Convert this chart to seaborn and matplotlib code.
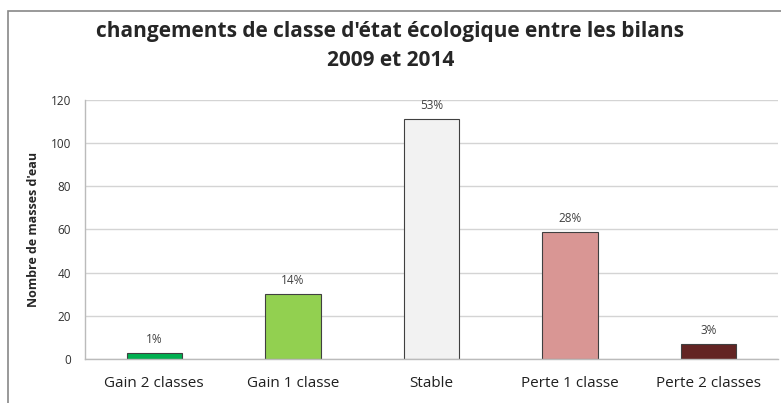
import pandas as pd
import seaborn as sns
import matplotlib.pyplot as plt
import matplotlib.patches as patches

# Données
categories = ["Gain 2 classes", "Gain 1 classe", "Stable", "Perte 1 classe", "Perte 2 classes"]
nombres = [3, 30, 111, 59, 7]
pourcentages = ["1%", "14%", "53%", "28%", "3%"]
couleurs = ["#00B050", "#92D050", "#F2F2F2", "#D99694", "#632423"]

df = pd.DataFrame({"classe": categories, "nombre": nombres})

sns.set_style("white")
plt.rcParams["font.family"] = ["Open Sans", "DejaVu Sans"]

fig = plt.figure(figsize=(7.81, 4.03), dpi=100)
ax = fig.add_axes([0.1088, 0.1092, 0.887, 0.6427])

sns.barplot(data=df, x="classe", y="nombre", hue="classe", palette=couleurs,
            saturation=1, width=0.4, edgecolor="#404040", linewidth=0.8,
            legend=False, ax=ax)

# Étiquettes de pourcentage au-dessus des barres
for i, (val, txt) in enumerate(zip(nombres, pourcentages)):
    ax.annotate(txt, (i, val), xytext=(0, 5), textcoords="offset points",
                ha="center", va="bottom", fontsize=8.5, color="#404040")

ax.set_ylim(0, 120)
ax.set_xlim(-0.5, 4.5)
ax.set_yticks(range(0, 121, 20))
ax.yaxis.grid(True, color="#D4D4D4", linewidth=1)
ax.set_axisbelow(True)

# Graduations de l'axe x aux limites des catégories
ax.set_xticks([-0.5 + k for k in range(6)], minor=True)
ax.tick_params(axis="x", which="major", length=0, labelsize=11, pad=12, colors="#202020")
ax.tick_params(axis="x", which="minor", length=5, color="#BBBBBB", direction="out")
ax.tick_params(axis="y", length=4, color="#BBBBBB", labelsize=8.5, labelcolor="#303030", pad=6)

for side in ["top", "right"]:
    ax.spines[side].set_visible(False)
for side in ["left", "bottom"]:
    ax.spines[side].set_color("#BBBBBB")
    ax.spines[side].set_linewidth(1)

ax.set_xlabel("")
ax.set_ylabel("Nombre de masses d'eau", fontsize=9, fontweight="bold", labelpad=8)

fig.text(0.5, 0.886, "changements de classe d'état écologique entre les bilans\n2009 et 2014",
         ha="center", va="center", fontsize=15, fontweight="bold", linespacing=1.55)

# Cadre du graphique
fig.patches.append(patches.Rectangle((8 / 781, -0.05), 1.2, 1 - 11 / 403 + 0.05,
                                     transform=fig.transFigure, fill=False,
                                     edgecolor="#888888", linewidth=1.2))

fig.savefig("out.png", dpi=100)
